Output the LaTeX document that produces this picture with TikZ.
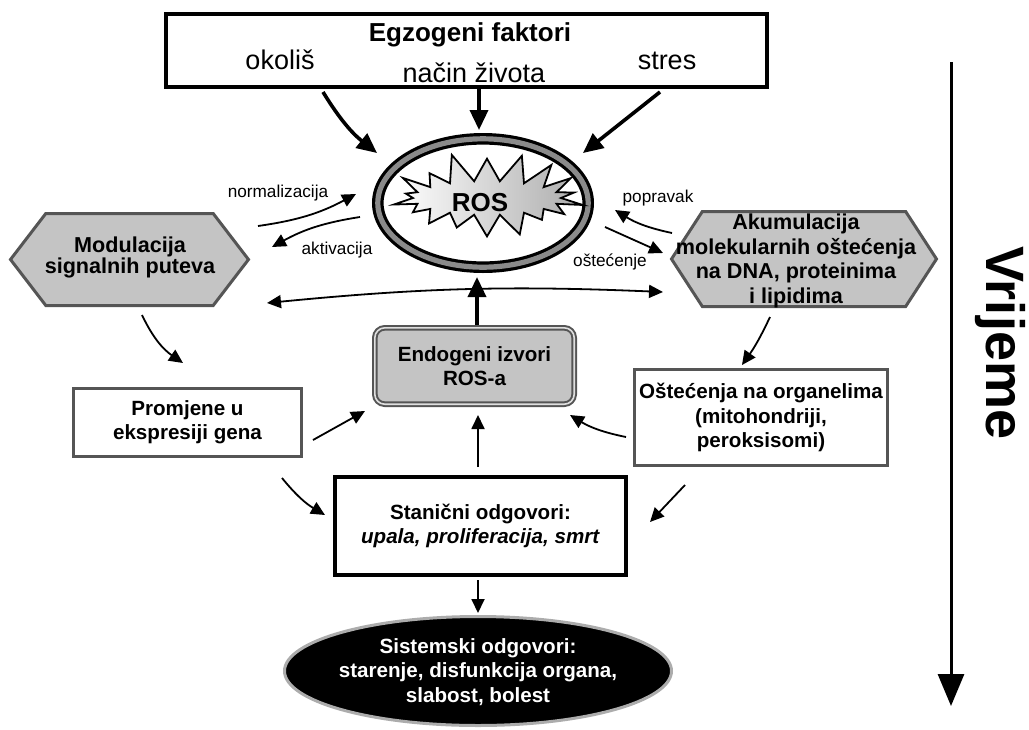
\documentclass[tikz,border=0pt]{standalone}
\usepackage{fontspec}
\setmainfont{Liberation Sans}
\usetikzlibrary{arrows.meta,calc,shapes.geometric,shapes.symbols}
\definecolor{boxedge}{HTML}{555555}
\definecolor{boxfill}{HTML}{C4C4C4}
\definecolor{ringgray}{HTML}{8A8A8A}
\tikzset{
  bigarrow/.style={line width=1.8pt, -{Triangle[length=10pt,width=9pt]}},
  smallarrow/.style={line width=0.9pt, -{Triangle[length=7pt,width=6.5pt]}},
  boxtext/.style={align=center, font=\bfseries\fontsize{10.3}{12.2}\selectfont},
  hextext/.style={align=center, font=\bfseries\fontsize{10.8}{12.2}\selectfont},
  hexbox/.style={signal, signal to=east and west, draw=boxedge, line width=1.5pt, fill=boxfill, inner sep=0pt},
  plainbox/.style={rectangle, draw=boxedge, line width=1.5pt, fill=white, inner sep=0pt, boxtext},
  labeltext/.style={font=\fontsize{8.6}{10}\selectfont}
}
\begin{document}
\begin{tikzpicture}[x=0.5pt, y=-0.5pt]
\useasboundingbox (0,0) rectangle (1029,729);

% Egzogeni faktori at the top
\node[rectangle, draw, line width=2pt, minimum width=300.5pt, minimum height=36.5pt, inner sep=0pt] (egz) at (466.5,50.5) {};
\node[font=\bfseries\fontsize{13}{15}\selectfont] (egztitle) at (470,35) {Egzogeni faktori};
\node[font=\fontsize{13.5}{15}\selectfont] (okolis) at (280,60) {okoliš};
\node[font=\fontsize{13.5}{15}\selectfont] (nacin) at (474,73) {način života};
\node[font=\fontsize{13.5}{15}\selectfont] (stres) at (667,61) {stres};

% ROS in the middle
\node[ellipse, draw=black, line width=1.6pt, double=ringgray, double distance=2.6pt, fill=white, minimum width=105.2pt, minimum height=64.2pt, inner sep=0pt] (ros) at (483,203) {};
\node[starburst, starburst points=18, starburst point height=15pt, random starburst=11, draw, line width=0.9pt, left color=white, right color=gray!65, minimum width=104pt, minimum height=47pt, inner sep=0pt] (burst) at (487,198) {};
\node[font=\bfseries\fontsize{13}{14}\selectfont] (rostext) at (480,203) {ROS};

% hexagons on both sides
\node[hexbox, signal pointer angle=105, minimum width=119pt, minimum height=46pt] (mod) at (129.5,259.5) {};
\node[hextext, font=\bfseries\fontsize{10.8}{10.5}\selectfont] (modtext) at (130,257) {Modulacija\\signalnih puteva};
\node[hexbox, signal pointer angle=114, minimum width=132.5pt, minimum height=47.5pt] (akum) at (804,259) {};
\node[hextext] (akumtext) at (796,261) {Akumulacija\\molekularnih oštećenja\\na DNA, proteinima\\i lipidima};

% boxes below
\node[rectangle, rounded corners=5pt, draw=boxedge, line width=1pt, double=gray!25, double distance=0.8pt, fill=boxfill, minimum width=99.7pt, minimum height=38.2pt, inner sep=0pt, boxtext] (endo) at (474.5,366) {Endogeni izvori\\ROS-a};
\node[plainbox, minimum width=114pt, minimum height=34pt] (prom) at (187.5,422.5) {Promjene u\\ekspresiji gena};
\node[plainbox, minimum width=126.5pt, minimum height=48pt] (oste) at (761,417.5) {Oštećenja na organelima\\(mitohondriji,\\peroksisomi)};
\node[plainbox, draw=black, line width=2pt, minimum width=145.5pt, minimum height=49pt] (stan) at (480.5,526) {Stanični odgovori:\\\textit{upala, proliferacija, smrt}};
\node[ellipse, draw=gray!65, line width=1.5pt, fill=black, minimum width=193.5pt, minimum height=54.5pt, inner sep=0pt] (sist) at (478,671) {};
\node[boxtext, text=white] (sisttext) at (478,672) {Sistemski odgovori:\\starenje, disfunkcija organa,\\slabost, bolest};

% small labels
\node[labeltext] (normlabel) at (278,193) {normalizacija};
\node[labeltext] (aktlabel) at (337,250) {aktivacija};
\node[labeltext] (poplabel) at (658,198) {popravak};
\node[labeltext] (ostlabel) at (610,262) {oštećenje};

% arrows into ROS
\draw[bigarrow] ($(egz)+(-143.5,41.5)$) to[bend right=10] ($(ros)+(-106,-50)$);
\draw[bigarrow] ($(egz)+(12.5,38.5)$) -- ($(ros)+(-4,-73)$);
\draw[bigarrow] ($(egz)+(193.5,41.5)$) -- ($(ros)+(100,-50)$);
\draw[bigarrow] ($(endo)+(2.5,-41)$) -- ($(ros)+(-6,74)$);

% arrows between ROS and the hexagons
\draw[smallarrow] ($(mod)+(128.5,-33.5)$) to[bend right=10] ($(ros)+(-127,-9)$);
\draw[smallarrow] ($(ros)+(-123,14)$) to[bend right=10] ($(mod)+(142.5,-12.5)$);
\draw[smallarrow] ($(akum)+(-132,-26)$) to[bend left=10] ($(ros)+(132,7)$);
\draw[smallarrow] ($(ros)+(122,24)$) -- ($(akum)+(-141,-6)$);
\draw[line width=0.9pt, {Triangle[length=7pt,width=6.5pt]}-{Triangle[length=7pt,width=6.5pt]}] ($(mod)+(137.5,43.5)$) to[bend left=4] ($(akum)+(-141,33)$);

% arrows in the lower part
\draw[smallarrow] ($(mod)+(12.5,55.5)$) to[bend right=15] ($(prom)+(-4.5,-59.5)$);
\draw[smallarrow] ($(prom)+(125.5,17.5)$) -- ($(endo)+(-109.5,45)$);
\draw[smallarrow] ($(prom)+(94.5,55.5)$) to[bend right=10] ($(stan)+(-155.5,-11)$);
\draw[smallarrow] ($(stan)+(-2.5,-59)$) -- ($(endo)+(3.5,49)$);
\draw[smallarrow] ($(akum)+(-34,58)$) to[bend left=5] ($(oste)+(-19,-52.5)$);
\draw[smallarrow] ($(oste)+(-135,19.5)$) to[bend left=10] ($(endo)+(95.5,49)$);
\draw[smallarrow] ($(oste)+(-76,67.5)$) -- ($(stan)+(169.5,-4)$);
\draw[smallarrow] ($(stan)+(-2.5,54)$) -- ($(sist)+(0,-58)$);

% time axis
\coordinate (timestart) at (951,62);
\coordinate (timeend) at (951,706);
\draw[line width=1.5pt, -{Triangle[length=16pt,width=13pt]}] (timestart) -- (timeend);
\node[rotate=-90, font=\bfseries\fontsize{27}{30}\selectfont] (vrijeme) at (1000,343) {Vrijeme};
\end{tikzpicture}
\end{document}
